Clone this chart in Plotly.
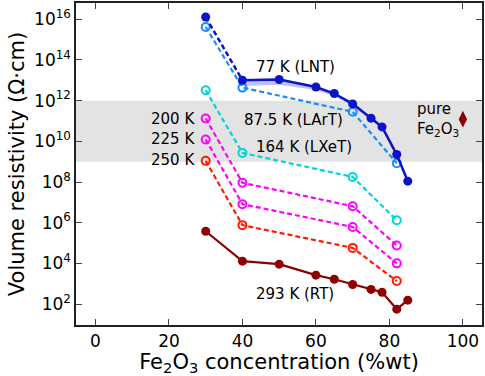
import plotly.graph_objects as go

# ---- data (log10 of volume resistivity, Ohm*cm) ----
x_full = [30, 40, 50, 60, 65, 70, 75, 78, 82, 85]
x_short = [30, 40, 70, 82]

lnt_log = [16.11, 13.0, 13.04, 12.67, 12.35, 11.84, 11.14, 10.71, 9.35, 8.04]
lnt_band_lo = [None, 12.72, 12.78, 12.52, 12.22, 11.74, 11.05, 10.62, 9.28, 8.04]
lnt_band_hi = [None, 13.05, 13.1, 12.72, 12.4, 11.9, 11.18, 10.76, 9.4, 8.04]
lart_log = [15.62, 12.64, 11.45, 8.92]
lxet_log = [12.51, 9.43, 8.25, 6.12]
k200_log = [11.12, 7.96, 6.81, 4.88]
k225_log = [10.09, 6.91, 5.79, 4.0]
k250_log = [9.04, 5.88, 4.76, 3.13]
rt_log = [5.58, 4.11, 3.96, 3.42, 3.22, 2.96, 2.72, 2.58, 1.75, 2.19]
pure_x = [100]
pure_log = [11.09]

band_lo, band_hi = 9, 12
ytick_exp = [2, 4, 6, 8, 10, 12, 14, 16]
xtick_vals = [0, 20, 40, 60, 80, 100]

p = lambda v: [10 ** a if a is not None else None for a in v]

C_LNT = "#0a14c8"
C_LART = "#1a8cff"
C_LXE = "#00d6d6"
C_MAG = "#ff00ff"
C_RED = "#ff1a00"
C_RT = "#8f0000"

fig = go.Figure()

# gray band
fig.add_hrect(y0=10 ** band_lo, y1=10 ** band_hi, fillcolor="#e3e3e3", line_width=0, layer="below")

# LNT uncertainty band
bx = x_full[1:]
fig.add_trace(go.Scatter(x=bx, y=p(lnt_band_hi[1:]), mode="lines", line=dict(width=0), showlegend=False, hoverinfo="skip"))
fig.add_trace(go.Scatter(x=bx, y=p(lnt_band_lo[1:]), mode="lines", line=dict(width=0), fill="tonexty",
                         fillcolor="rgba(90,100,230,0.4)", showlegend=False, hoverinfo="skip"))

def open_series(y, color):
    fig.add_trace(go.Scatter(x=x_short, y=p(y), mode="lines+markers",
                             line=dict(color=color, width=2.2, dash="5px,3px"),
                             marker=dict(symbol="circle-open", size=8, color=color, line=dict(width=2, color=color)),
                             showlegend=False))

open_series(k250_log, C_RED)
open_series(k225_log, C_MAG)
open_series(k200_log, C_MAG)
open_series(lxet_log, C_LXE)
open_series(lart_log, C_LART)

# LNT: dashed 30-40, solid after
fig.add_trace(go.Scatter(x=x_full[:2], y=p(lnt_log[:2]), mode="lines",
                         line=dict(color=C_LNT, width=2.5, dash="5px,3px"), showlegend=False))
fig.add_trace(go.Scatter(x=x_full[1:], y=p(lnt_log[1:]), mode="lines",
                         line=dict(color=C_LNT, width=2.5), showlegend=False))
fig.add_trace(go.Scatter(x=x_full, y=p(lnt_log), mode="markers",
                         marker=dict(size=9, color=C_LNT), showlegend=False))

# RT
fig.add_trace(go.Scatter(x=x_full, y=p(rt_log), mode="lines+markers",
                         line=dict(color=C_RT, width=2.2), marker=dict(size=9, color=C_RT), showlegend=False))

# pure Fe2O3
fig.add_trace(go.Scatter(x=pure_x, y=p(pure_log), mode="markers",
                         marker=dict(symbol="diamond-tall", size=12, color=C_RT), showlegend=False))

F = "DejaVu Sans"
ann = [
    dict(x=43.1, y=13.64, text="77 K (LNT)", xanchor="left"),
    dict(x=39.9, y=11.04, text="87.5 K (LArT)", xanchor="left"),
    dict(x=43.1, y=9.71, text="164 K (LXeT)", xanchor="left"),
    dict(x=27.6, y=11.09, text="200 K", xanchor="right"),
    dict(x=27.6, y=10.1, text="225 K", xanchor="right"),
    dict(x=27.6, y=9.07, text="250 K", xanchor="right"),
    dict(x=43.1, y=2.49, text="293 K (RT)", xanchor="left"),
    dict(x=86.9, y=11.07, text="pure<br>Fe<sub>2</sub>O<sub>3</sub>", xanchor="left", align="left"),
]
for a in ann:
    fig.add_annotation(**a, showarrow=False, yanchor="middle", font=dict(family=F, size=15, color="black"))

fig.update_xaxes(range=[-5.3, 105.2], tickvals=xtick_vals, ticks="inside", ticklen=6, tickwidth=1.2,
                 showline=True, linecolor="#222", linewidth=1.5, mirror="ticks", showgrid=False, zeroline=False,
                 tickfont=dict(family=F, size=17, color="black"), automargin=False,
                 title=dict(text="Fe<sub>2</sub>O<sub>3</sub> concentration (%wt)", font=dict(family=F, size=21, color="black"), standoff=4))
fig.update_yaxes(type="log", range=[0.97, 16.8], tickvals=[10 ** e for e in ytick_exp],
                 ticktext=[f"10<sup>{e}</sup>" for e in ytick_exp],
                 ticks="inside", ticklen=6, tickwidth=1.2, automargin=False,
                 showline=True, linecolor="#222", linewidth=1.5, mirror="ticks", showgrid=False, zeroline=False,
                 tickfont=dict(family=F, size=17, color="black"),
                 title=dict(text="Volume resistivity (Ω·cm)", font=dict(family=F, size=21, color="black"), standoff=4))

fig.update_layout(width=485, height=376, margin=dict(l=76, r=3, t=3, b=51),
                  plot_bgcolor="white", paper_bgcolor="white", showlegend=False)

fig.write_html("out.html", config={"displayModeBar": False},
               post_script="document.body.style.margin='0';document.body.style.overflow='hidden';")
